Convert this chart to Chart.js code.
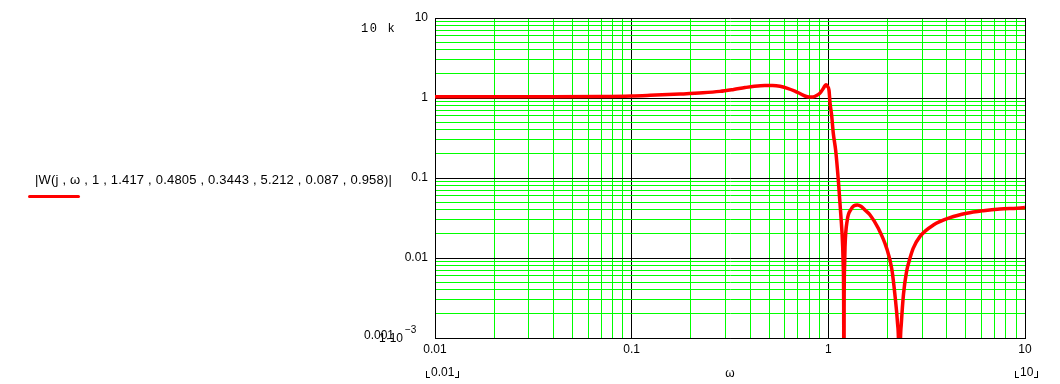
<!DOCTYPE html>
<html>
<head>
<meta charset="utf-8">
<script src="https://cdn.jsdelivr.net/npm/chart.js@4/dist/chart.umd.min.js"></script>
<style>
  html, body { margin: 0; padding: 0; background: #fff; }
  #wrap { position: relative; width: 1060px; height: 384px; overflow: hidden; }
  #c { position: absolute; left: 0; top: 0; }
  .t { position: absolute; white-space: nowrap; color: #000; font-family: "Liberation Sans", Arial, sans-serif; font-size: 12px; line-height: 14px; }
  .mono { font-family: "Liberation Mono", "DejaVu Sans Mono", monospace; letter-spacing: 1.6px; }
  .br { display: inline-block; width: 3px; height: 6px; border-bottom: 1px solid #000; vertical-align: -2px; }
  .bl { border-left: 1px solid #000; margin-right: 1px; }
  .brr { border-right: 1px solid #000; margin-left: 1px; }
  #uline { position: absolute; left: 28px; top: 195px; width: 52px; height: 3px; background: #ff0000; border-radius: 2px; }
</style>
</head>
<body>
<div id="wrap">
  <canvas id="c" width="1060" height="384"></canvas>
  <div class="t" style="left:35px; top:172px; font-size:13px; line-height:16px; letter-spacing:0.2px;">|W(j , ω , 1 , 1.417 , 0.4805 , 0.3443 , 5.212 , 0.087 , 0.958)|</div>
  <div id="uline"></div>
  <div class="t mono" style="left:361px; top:22px;">10 k</div>
  <div class="t" style="left:364px; top:328px;">0.001</div>
  <div class="t" style="left:379px; top:331px;">1·10</div>
  <div class="t" style="left:405px; top:324px; font-size:10px; line-height:12px;">−3</div>
  <div class="t" style="left:426px; top:365px;"><span class="br bl"></span>0.01<span class="br brr"></span></div>
  <div class="t" style="left:1015px; top:365px;"><span class="br bl"></span>10<span class="br brr"></span></div>
</div>
<script>
// ---- data ----
const omega = [0.01, 0.02, 0.04, 0.069, 0.1, 0.124, 0.176, 0.23, 0.281, 0.33, 0.377, 0.42, 0.476, 0.52, 0.568, 0.62, 0.676, 0.72, 0.76, 0.80, 0.835, 0.87, 0.907, 0.94, 0.96, 0.973, 0.99, 1.008, 1.02, 1.04, 1.06, 1.09, 1.124, 1.156, 1.183, 1.19, 1.197, 1.2, 1.203, 1.21, 1.216, 1.249, 1.30, 1.35, 1.405, 1.47, 1.55, 1.63, 1.795, 1.98, 2.10, 2.18, 2.25, 2.29, 2.30, 2.31, 2.35, 2.41, 2.50, 2.60, 2.70, 2.92, 3.42, 4.16, 5.05, 6.14, 7.46, 9.8, 10];
const magnitude = [1.04, 1.04, 1.04, 1.045, 1.06, 1.08, 1.12, 1.16, 1.21, 1.28, 1.35, 1.40, 1.43, 1.43, 1.40, 1.32, 1.22, 1.13, 1.06, 1.03, 1.03, 1.07, 1.15, 1.30, 1.42, 1.46, 1.40, 1.25, 0.87, 0.6, 0.36, 0.22, 0.094, 0.036, 0.0138, 0.008, 0.0024, 0.00001, 0.0024, 0.008, 0.0138, 0.030, 0.040, 0.045, 0.046, 0.044, 0.039, 0.0345, 0.0235, 0.0132, 0.0074, 0.0035, 0.0015, 0.0003, 0.00001, 0.0003, 0.0015, 0.0035, 0.0068, 0.0099, 0.0132, 0.0185, 0.0258, 0.0319, 0.0362, 0.039, 0.041, 0.0425, 0.043];
const xDecades = [0.01, 0.1, 1, 10];
const xDecadeLabels = ["0.01", "0.1", "1", "10"];
const yDecades = [0.001, 0.01, 0.1, 1, 10];
const yDecadeLabels = ["", "0.01", "0.1", "1", "10"];
const xTitle = "ω";

function allLogTicks(decades) {
  const out = [];
  for (let i = 0; i < decades.length; i++) {
    const d = decades[i];
    if (i === decades.length - 1) { out.push({ value: d }); break; }
    for (let m = 1; m <= 9; m++) out.push({ value: +(d * m).toPrecision(6) });
  }
  return out;
}
function isDecade(v, decades) {
  return decades.some(d => Math.abs(v - d) / d < 1e-6);
}
function labelFor(v, decades, labels) {
  for (let i = 0; i < decades.length; i++) if (Math.abs(v - decades[i]) / decades[i] < 1e-6) return labels[i];
  return "";
}

const points = omega.map((w, i) => ({ x: w, y: magnitude[i] }));

new Chart(document.getElementById('c'), {
  type: 'line',
  data: {
    datasets: [{
      data: points,
      borderColor: '#ff0000',
      borderWidth: 3.5,
      pointRadius: 0,
      fill: false,
      cubicInterpolationMode: 'monotone',
      borderJoinStyle: 'round'
    }]
  },
  options: {
    responsive: false,
    animation: false,
    devicePixelRatio: 1,
    layout: { padding: { left: 375, right: 35, top: 18, bottom: 0 } },
    plugins: { legend: { display: false }, tooltip: { enabled: false } },
    scales: {
      x: {
        type: 'logarithmic',
        min: 0.01, max: 10,
        afterBuildTicks: s => { s.ticks = allLogTicks(xDecades); },
        afterFit: s => { s.height = 46; },
        grid: {
          drawTicks: false,
          lineWidth: 1,
          color: ctx => (ctx.tick && isDecade(ctx.tick.value, xDecades)) ? '#000000' : '#00ff00'
        },
        border: { display: true, color: '#000000', width: 1 },
        ticks: {
          autoSkip: false, maxRotation: 0, padding: 4,
          color: '#000', font: { family: 'Liberation Sans', size: 12 },
          callback: v => labelFor(v, xDecades, xDecadeLabels)
        },
        title: { display: true, text: xTitle, color: '#000', font: { family: 'Liberation Sans', size: 12 }, padding: { top: 0, bottom: 3 } }
      },
      y: {
        type: 'logarithmic',
        min: 0.001, max: 10,
        afterBuildTicks: s => { s.ticks = allLogTicks(yDecades); },
        afterFit: s => { s.width = 60; },
        grid: {
          drawTicks: false,
          lineWidth: 1,
          color: ctx => (ctx.tick && isDecade(ctx.tick.value, yDecades)) ? '#000000' : '#00ff00'
        },
        border: { display: true, color: '#000000', width: 1 },
        ticks: {
          autoSkip: false, padding: 7,
          color: '#000', font: { family: 'Liberation Sans', size: 12 },
          callback: v => labelFor(v, yDecades, yDecadeLabels)
        }
      }
    }
  }
});
</script>
</body>
</html>
